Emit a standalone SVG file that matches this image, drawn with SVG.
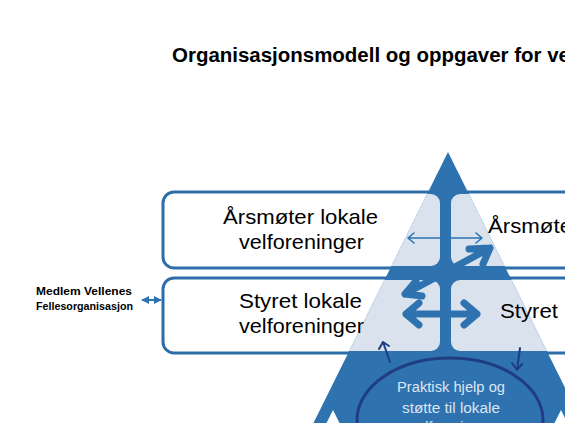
<svg xmlns="http://www.w3.org/2000/svg" width="565" height="423" viewBox="0 0 565 423">
<defs>
<style>
.box{fill:#ffffff;stroke:#2e6ea8;stroke-width:3}
.light{fill:#d9e2ed}
.blue{fill:#2e72b0}
.t{font-family:"Liberation Sans","Noto Sans",sans-serif;fill:#000;text-anchor:middle}
.big{font-size:21px}
.thick{stroke:#2e72b0;stroke-width:7;fill:none;stroke-linecap:round;stroke-linejoin:round}
.thin{stroke:#2e72b0;stroke-width:1.6;fill:none;stroke-linecap:round;stroke-linejoin:round}
.navy{stroke:#1f3d80;stroke-width:2;fill:none;stroke-linecap:round;stroke-linejoin:round}
.et{font-size:14px;fill:#dce6f2}
.mb{font-size:11px;font-weight:bold;text-anchor:start}
</style>
<clipPath id="tri"><polygon points="448,152 310,430 586,430"/></clipPath>
<marker id="ah" viewBox="0 0 10 10" refX="9" refY="5" markerWidth="4" markerHeight="4" orient="auto-start-reverse"><path d="M0,0 L10,5 L0,10 z" fill="#2e72b0"/></marker>
</defs>
<rect width="565" height="423" fill="#fff"/>
<g id="title"><text class="t" x="172" y="62" style="text-anchor:start;font-weight:bold;font-size:20px" textLength="398" lengthAdjust="spacingAndGlyphs">Organisasjonsmodell og oppgaver for ve</text></g>
<g id="row1"><rect class="box" x="163" y="192" width="560" height="76" rx="11"/></g>
<g id="row2"><rect class="box" x="163" y="278" width="560" height="75" rx="11"/></g>
<g id="pyramid">
<polygon class="blue" points="448,152 310,430 586,430"/>
<g clip-path="url(#tri)">
<rect class="light" x="250" y="194" width="190" height="72" rx="9"/>
<rect class="light" x="451" y="194" width="200" height="72" rx="9"/>
<rect class="light" x="250" y="280" width="190" height="71" rx="9"/>
<rect class="light" x="451" y="280" width="200" height="71" rx="9"/>
</g>
<polygon fill="#fff" points="326,424 333,410 340,424"/>
<polygon fill="#fff" points="554,424 561,410 568,424"/>
</g>
<g id="labels">
<text class="t big" x="300.5" y="224" textLength="155" lengthAdjust="spacingAndGlyphs">Årsmøter lokale</text>
<text class="t big" x="301.5" y="249" textLength="125" lengthAdjust="spacingAndGlyphs">velforeninger</text>
<text class="t big" x="300.5" y="308" textLength="123" lengthAdjust="spacingAndGlyphs">Styret lokale</text>
<text class="t big" x="301.5" y="333" textLength="125" lengthAdjust="spacingAndGlyphs">velforeninger</text>
<text class="t big" x="488" y="233" style="text-anchor:start" textLength="84" lengthAdjust="spacingAndGlyphs">Årsmøte</text>
<text class="t big" x="529" y="318" textLength="58" lengthAdjust="spacingAndGlyphs">Styret</text>
</g>
<g id="connectors">
<path class="thin" d="M408,238 L482,238 M414,233 L408,238 L414,243 M476,233 L482,238 L476,243"/>
<path class="thick" d="M405,294 L490,248 M469,249 L490,248 L483,264 M416,281 L405,294 L422,296"/>
<path class="thick" d="M406,314 L477,314 M419,303 L406,314 L419,325 M464,303 L477,314 L464,325"/>
<path class="navy" d="M390,362 L383,342 M379,349 L383,342 L389,346"/>
<path class="navy" d="M520,348 L517,370 M512,363 L517,370 L522,364"/>
<line x1="142" y1="300" x2="161" y2="300" stroke="#2e72b0" stroke-width="2" marker-start="url(#ah)" marker-end="url(#ah)"/>
</g>
<g id="ellipse">
<ellipse cx="450" cy="420" rx="93" ry="62" fill="#2e72b0" stroke="#1f3d80" stroke-width="3"/>
<text class="t et" x="451" y="392" textLength="108" lengthAdjust="spacingAndGlyphs">Praktisk hjelp og</text>
<text class="t et" x="451" y="413" textLength="98" lengthAdjust="spacingAndGlyphs">støtte til lokale</text>
<text class="t et" x="451" y="432">velforeninger</text>
</g>
<g id="member">
<text class="t mb" x="36" y="295" textLength="96" lengthAdjust="spacingAndGlyphs">Medlem Vellenes</text>
<text class="t mb" x="36" y="310" textLength="97" lengthAdjust="spacingAndGlyphs">Fellesorganisasjon</text>
</g>
</svg>
